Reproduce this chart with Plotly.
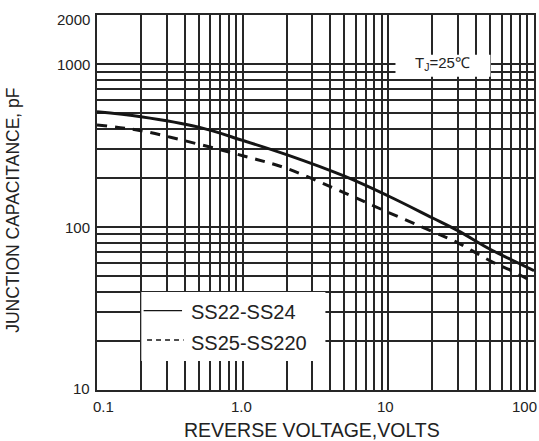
import numpy as np
import plotly.graph_objects as go

# ---- data ----
series_names = ["SS22-SS24", "SS25-SS220"]

voltage_a = [0.1, 0.2, 0.5, 1, 2, 5, 10, 20, 30, 50, 70, 100]
cap_a = [510, 475, 410, 340, 278, 205, 155, 114, 95, 73, 63, 54]

voltage_b = [0.1, 0.2, 0.5, 1, 2, 5, 10, 20, 30, 50, 70, 90]
cap_b = [423, 390, 322, 274, 229, 162, 123, 94, 80, 62, 54, 48]

x_label_vals = [0.1, 1, 10, 100]
x_label_text = ["0.1", "1.0", "10", "100"]
y_label_vals = [10, 100, 1000, 2000]
y_label_text = ["10", "100", "1000", "2000"]
temp_note = "T<sub>J</sub>=25℃"
x_title = "REVERSE VOLTAGE,VOLTS"
y_title = "JUNCTION CAPACITANCE, pF"

X_MIN, X_MAX = 0.1, 100
Y_MIN, Y_MAX = 10, 2000

# grid positions (every 1..9 of each decade)
x_grid = [round(m * 10.0 ** e, 6) for e in (-1, 0, 1) for m in range(1, 10)] + [100]
y_grid = [round(m * 10.0 ** e, 6) for e in (1, 2) for m in range(1, 10)] + [1000, 2000]

INK = "#151515"
GRID = "#262626"
TXT = "#222222"
FONT = "Liberation Sans, Arial, sans-serif"

fig = go.Figure()
fig.add_trace(go.Scatter(x=voltage_a, y=cap_a, mode="lines", name=series_names[0],
                         line=dict(color=INK, width=3, shape="spline", smoothing=1.0),
                         showlegend=False, hoverinfo="skip"))
fig.add_trace(go.Scatter(x=voltage_b, y=cap_b, mode="lines", name=series_names[1],
                         line=dict(color=INK, width=3, dash="10px,8px", shape="spline", smoothing=1.0),
                         showlegend=False, hoverinfo="skip"))

axis_common = dict(type="log", showgrid=True, gridcolor=GRID, gridwidth=1.5,
                   showline=True, linecolor=GRID, linewidth=1.6, mirror=True,
                   zeroline=False, ticks="", automargin=False, showticklabels=False)

fig.update_xaxes(range=[np.log10(X_MIN), np.log10(X_MAX)], tickvals=x_grid, **axis_common)
fig.update_yaxes(range=[np.log10(Y_MIN), np.log10(Y_MAX)], tickvals=y_grid, **axis_common)

annotations = []
tick_font = dict(size=15, color=TXT, family=FONT)

# x tick labels
x_shift = [6, -1, -3, -10]
xspan = np.log10(X_MAX) - np.log10(X_MIN)
for v, t, s in zip(x_label_vals, x_label_text, x_shift):
    annotations.append(dict(x=(np.log10(v) - np.log10(X_MIN)) / xspan, y=-0.0446,
                            xref="paper", yref="paper", text=t,
                            showarrow=False, xshift=s, xanchor="center", yanchor="middle",
                            borderpad=0, borderwidth=0, font=tick_font))

# y tick labels
y_shift = [2, 0, 0, -4]
yspan = np.log10(Y_MAX) - np.log10(Y_MIN)
for v, t, s in zip(y_label_vals, y_label_text, y_shift):
    annotations.append(dict(x=-0.0153, y=(np.log10(v) - np.log10(Y_MIN)) / yspan,
                            xref="paper", yref="paper", text=t,
                            showarrow=False, yshift=s, xanchor="right", yanchor="middle",
                            borderpad=0, borderwidth=0, font=tick_font))

# axis titles
annotations.append(dict(x=0.4918, y=-0.1068, xref="paper", yref="paper", text=x_title,
                        showarrow=False, xanchor="center", yanchor="middle",
                        borderpad=0, borderwidth=0,
                        font=dict(size=19.5, color=TXT, family=FONT)))
annotations.append(dict(x=-0.1939, y=0.4785, xref="paper", yref="paper", text=y_title,
                        showarrow=False, textangle=-90, xanchor="center", yanchor="middle",
                        font=dict(size=17.5, color=TXT, family=FONT)))

# temperature note
annotations.append(dict(x=0.7233, y=0.8719, xref="paper", yref="paper", text=temp_note,
                        showarrow=False, xanchor="left", yanchor="middle",
                        font=dict(size=15, color=TXT, family=FONT)))

# legend text
legend_text_y = [0.2082, 0.1246]
for name, ty in zip(series_names, legend_text_y):
    annotations.append(dict(x=0.2113, y=ty, xref="paper", yref="paper", text=name,
                            showarrow=False, xanchor="left", yanchor="middle",
                            font=dict(size=20, color=TXT, family=FONT)))

shapes = [
    # white boxes that interrupt the grid
    dict(type="rect", xref="paper", yref="paper", x0=0.1014, x1=0.5227, y0=0.0774, y1=0.2615,
         fillcolor="white", line=dict(width=0), layer="above"),
    dict(type="rect", xref="paper", yref="paper", x0=0.683, x1=0.9004, y0=0.8353, y1=0.894,
         fillcolor="white", line=dict(width=0), layer="above"),
    # legend symbols
    dict(type="line", xref="paper", yref="paper", x0=0.1067, x1=0.1946, y0=0.2116, y1=0.2116,
         line=dict(color=INK, width=1.4), layer="above"),
    dict(type="line", xref="paper", yref="paper", x0=0.1145, x1=0.1983, y0=0.1334, y1=0.1334,
         line=dict(color=INK, width=1.4, dash="5px,4px"), layer="above"),
]

fig.update_layout(
    width=539, height=441,
    margin=dict(l=97, r=5, t=15, b=51),
    paper_bgcolor="white", plot_bgcolor="white",
    font=dict(family=FONT, color=TXT),
    annotations=annotations, shapes=shapes,
    showlegend=False, hovermode=False,
)

# remove the default 8px page margin so the figure sits at the window's corner
fig.write_html("out.html", config={"displayModeBar": False},
               post_script="document.body.style.margin='0';")
